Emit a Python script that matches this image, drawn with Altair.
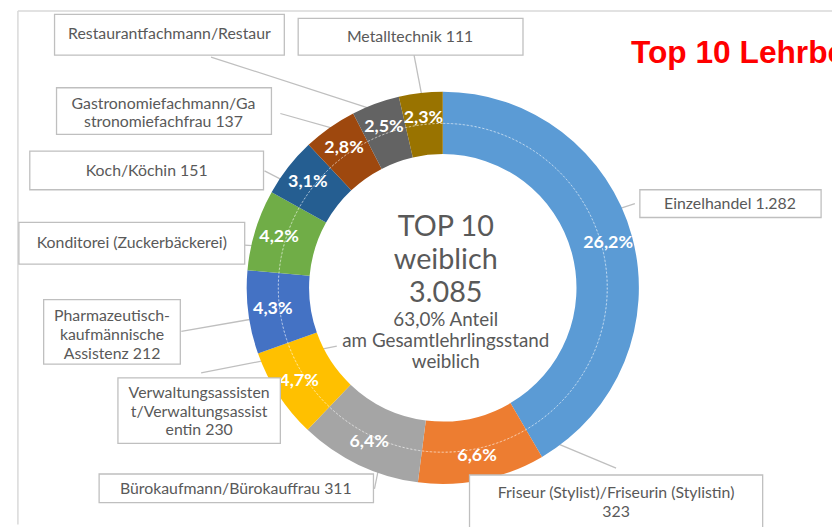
import altair as alt
import pandas as pd

# ---------------- data ----------------
berufe = [
    "Einzelhandel",
    "Friseur (Stylist)/Friseurin (Stylistin)",
    "Bürokaufmann/Bürokauffrau",
    "Verwaltungsassistent/Verwaltungsassistentin",
    "Pharmazeutisch-kaufmännische Assistenz",
    "Konditorei (Zuckerbäckerei)",
    "Koch/Köchin",
    "Gastronomiefachmann/Gastronomiefachfrau",
    "Restaurantfachmann/Restaurantfachfrau",
    "Metalltechnik",
]
anzahl = [1282, 323, 311, 230, 212, 206, 151, 137, 122, 111]
anteil = ["26,2%", "6,6%", "6,4%", "4,7%", "4,3%", "4,2%", "3,1%", "2,8%", "2,5%", "2,3%"]
box_texte = [
    "Einzelhandel 1.282",
    "Friseur (Stylist)/Friseurin (Stylistin)\n323",
    "Bürokaufmann/Bürokauffrau 311",
    "Verwaltungsassisten\nt/Verwaltungsassist\nentin 230",
    "Pharmazeutisch-\nkaufmännische\nAssistenz 212",
    "Konditorei (Zuckerbäckerei)",
    "Koch/Köchin  151",
    "Gastronomiefachmann/Ga\nstronomiefachfrau 137",
    "Restaurantfachmann/Restaur",
    "Metalltechnik  111",
]
mitte_texte = ["TOP 10", "weiblich", "3.085", "63,0% Anteil", "am Gesamtlehrlingsstand", "weiblich"]
titel = "Top 10 Lehrberufe"

# ---------------- styles / layout (page pixels) ----------------
farben = ["#5B9BD5", "#ED7D31", "#A5A5A5", "#FFC000", "#4472C4",
          "#70AD47", "#255E91", "#9E480E", "#636363", "#997300"]
W, H = 832, 519
CX, CY = 439, 280          # donut centre inside the view
R_IN, R_SEP, R_OUT, R_LAB = 135, 166, 198, 173

box_x1 = [646, 474, 100, 119, 44, 19, 30, 57, 55, 301]
box_x2 = [829, 770, 377, 283, 182, 247, 266, 274, 287, 528]
box_y1 = [189, 477, 476, 379, 300, 222, 150, 86, 12, 16]
box_y2 = [217, 545, 505, 445, 365, 264, 189, 133, 53, 53]
txt_x = [737, 622, 238, 201, 113, 133, 148, 165, 171, 414]
txt_y = [203, 495, 491, 394, 317, 243, 170, 102, 32, 35]
lead_x1 = [641, 622, 378, 203, 183, 247, 267, 283, 213, 418]
lead_y1 = [203, 470, 491, 374, 332, 245, 170, 112, 55, 53]
lead_x2 = [592, 502, 387, 340, 252, 298, 312, 347, 380, 427]
lead_y2 = [219, 420, 447, 347, 320, 248, 193, 130, 109, 100]
mitte_y = [227, 260, 293, 321, 342, 363]
mitte_size = [29, 29, 29, 19, 19, 19]

FONT = "Lato"
GRAU = "#595959"

xs = alt.Scale(domain=[8, 8 + W], range=[0, W])
ys = alt.Scale(domain=[8, 8 + H], range=[0, H])

df = pd.DataFrame({"beruf": berufe, "anzahl": anzahl, "anteil": anteil,
                   "idx": list(range(len(berufe)))})
boxes = pd.DataFrame({"x1": box_x1, "x2": box_x2, "y1": box_y1, "y2": box_y2,
                      "tx": txt_x, "ty": txt_y, "t": box_texte,
                      "lx1": lead_x1, "ly1": lead_y1, "lx2": lead_x2, "ly2": lead_y2})
mitte = pd.DataFrame({"t": mitte_texte, "y": mitte_y, "s": mitte_size})

base = alt.Chart(df).encode(
    theta=alt.Theta("anzahl:Q", stack=True),
    order=alt.Order("idx:Q"),
    x=alt.value(CX), y=alt.value(CY),
)

ring = base.mark_arc(radius=R_OUT, radius2=R_IN).encode(
    color=alt.Color("beruf:N", scale=alt.Scale(domain=berufe, range=farben), legend=None)
)

sep = alt.Chart(pd.DataFrame({"a": [0]})).mark_arc(
    radius=R_SEP, radius2=R_SEP, fillOpacity=0, stroke="white",
    strokeWidth=0.8, strokeDash=[2, 2], strokeOpacity=0.5
).encode(theta=alt.value(0), theta2=alt.value(6.2832), x=alt.value(CX), y=alt.value(CY))

labels = base.mark_text(radius=R_LAB, font=FONT, fontSize=18, fontWeight="bold",
                        color="white").encode(text="anteil:N", detail="beruf:N")

frame = alt.Chart(pd.DataFrame({"x1": [18, 18], "x2": [840, 18], "y1": [8.5, 8.5], "y2": [8.5, 527]})).mark_rule(
    color="#D9D9D9", strokeWidth=1.5
).encode(x=alt.X("x1:Q", scale=xs, axis=None), x2="x2:Q",
         y=alt.Y("y1:Q", scale=ys, axis=None), y2="y2:Q")

leaders = alt.Chart(boxes).mark_rule(color="#BFBFBF", strokeWidth=1.3).encode(
    x=alt.X("lx1:Q", scale=xs, axis=None), x2="lx2:Q",
    y=alt.Y("ly1:Q", scale=ys, axis=None), y2="ly2:Q")

rects = alt.Chart(boxes).mark_rect(fill="white", stroke="#BFBFBF", strokeWidth=1.3).encode(
    x=alt.X("x1:Q", scale=xs, axis=None), x2="x2:Q",
    y=alt.Y("y1:Q", scale=ys, axis=None), y2="y2:Q")

btext = alt.Chart(boxes).mark_text(font=FONT, fontSize=16, color=GRAU, lineBreak="\n",
                                   lineHeight=19, align="center", baseline="middle").encode(
    x=alt.X("tx:Q", scale=xs, axis=None), y=alt.Y("ty:Q", scale=ys, axis=None), text="t:N")

ctext = alt.Chart(mitte).mark_text(font=FONT, color=GRAU, align="center", baseline="middle").encode(
    x=alt.value(CX + 3), y=alt.Y("y:Q", scale=ys, axis=None), text="t:N",
    size=alt.Size("s:Q", scale=None, legend=None))

ttext = alt.Chart(pd.DataFrame({"t": [titel], "x": [637], "y": [51]})).mark_text(
    font="Liberation Sans", fontSize=32, fontWeight="bold", color="#FF0000",
    align="left", baseline="middle").encode(
    x=alt.X("x:Q", scale=xs, axis=None), y=alt.Y("y:Q", scale=ys, axis=None), text="t:N")

chart = alt.layer(frame, leaders, ring, sep, labels, rects, btext, ctext, ttext).properties(
    width=W, height=H, autosize=alt.AutoSizeParams(type="none"), padding=0
).configure_view(stroke=None)

chart.save("out.html", embed_options={"renderer": "svg", "actions": False})
